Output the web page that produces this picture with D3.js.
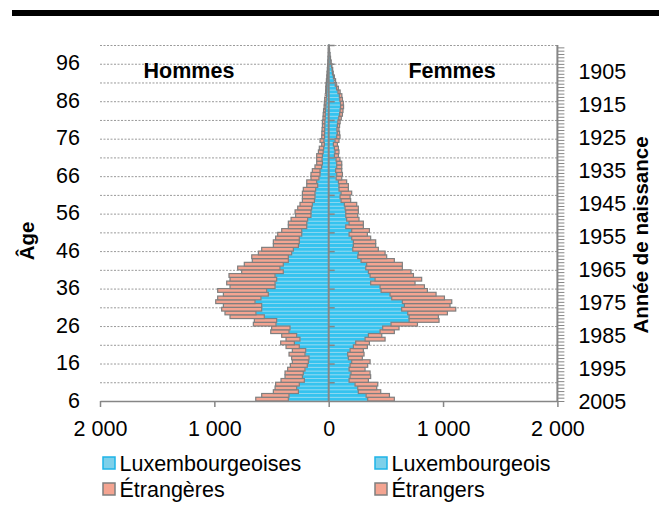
<!DOCTYPE html>
<html><head><meta charset="utf-8">
<script src="https://cdn.jsdelivr.net/npm/d3@7/dist/d3.min.js"></script>
<style>
body{margin:0;background:#fff}
text{font-family:"Liberation Sans",Arial,sans-serif;fill:#000}
</style>
</head><body>
<svg id="c" width="659" height="513"></svg>
<script>
// ---- data (ages 6..100) ----
const ages = [6,7,8,9,10,11,12,13,14,15,16,17,18,19,20,21,22,23,24,25,26,27,28,29,30,31,32,33,34,35,36,37,38,39,40,41,42,43,44,45,46,47,48,49,50,51,52,53,54,55,56,57,58,59,60,61,62,63,64,65,66,67,68,69,70,71,72,73,74,75,76,77,78,79,80,81,82,83,84,85,86,87,88,89,90,91,92,93,94,95,96,97,98,99,100];

const luxHommes = [353,347,265,280,257,213,230,222,207,187,178,172,207,201,257,300,251,280,347,338,461,455,563,636,586,586,644,592,528,542,469,469,455,469,397,426,397,353,353,324,309,265,257,257,236,236,192,192,184,155,155,149,143,125,120,120,114,96,105,85,76,76,62,55,58,55,48,44,38,42,36,36,35,34,34,31,30,28,25,24,22,19,17,16,15,13,11,10,8,7,5,4,3,2,1];
const etrHommes = [285,239,219,189,207,204,152,160,152,148,140,152,140,117,116,120,122,131,160,161,198,195,300,271,350,335,344,379,393,429,394,423,408,403,364,370,341,315,320,291,277,219,227,207,210,175,161,161,145,134,139,122,108,105,110,110,108,96,87,70,79,67,58,50,47,50,42,38,23,34,25,24,23,21,21,19,18,17,15,14,13,11,10,10,9,7,6,5,4,3,3,2,1,1,1];
const luxFemmes = [341,327,259,254,230,178,187,195,178,187,201,172,166,187,216,236,318,347,449,472,545,703,703,691,638,662,644,551,536,458,449,367,405,362,347,324,332,283,254,259,210,216,216,201,178,201,149,178,157,149,149,143,137,108,99,108,90,90,85,65,70,61,70,70,64,50,55,50,41,55,70,75,72,76,80,88,96,100,104,103,97,93,81,69,57,49,41,33,29,23,18,13,10,7,4];
const etrFemmes = [233,204,196,166,199,169,180,167,140,154,161,122,143,116,122,120,175,117,125,143,231,262,256,347,473,399,432,461,403,405,388,388,408,379,373,320,312,291,253,234,224,195,195,166,160,155,154,125,108,105,110,116,108,84,88,93,82,82,72,49,50,53,44,44,35,35,35,35,35,35,29,20,18,19,20,22,24,25,26,25,23,22,19,16,13,11,9,7,6,5,4,3,2,1,1];

const xTicks = [-2000,-1000,0,1000,2000];
const ageTicks = [6,16,26,36,46,56,66,76,86,96];
const yearTicks = [1905,1915,1925,1935,1945,1955,1965,1975,1985,1995,2005];
const sideTitles = ["Hommes","Femmes"];
const legendItems = [
  {label:"Luxembourgeoises", kind:"lux"},
  {label:"Luxembourgeois", kind:"lux"},
  {label:"Étrangères", kind:"etr"},
  {label:"Étrangers", kind:"etr"}
];

// ---- styles ----
const C = {
  luxFill:"#35C3EF", luxStroke:"#93D9F1",
  luxLegFill:"#7DD0EA", luxLegStroke:"#1EB4E8",
  etrFill:"#F4A491", etrStroke:"#7F7F7F",
  axis:"#868686", grid:"#9a9a9a"
};
const FS = 21.5;
const FF = "'Liberation Sans',Arial,sans-serif";

const svg = d3.select("#c");
// top black rule
svg.append("rect").attr("x",12).attr("y",10).attr("width",647).attr("height",6).attr("fill","#000");

const x = d3.scaleLinear().domain([-2000,2000]).range([100,557.4]);
const y = d3.scaleBand().domain(ages).range([401,45]).paddingInner(0).paddingOuter(0);
const bw = y.bandwidth();
const yr = d3.scaleLinear().domain([2005,1905]).range([401,70.5]);

// gridlines every 5 ages (band boundaries)
const gridAges = ages.filter(a => (a-5)%5===0);
svg.append("g").selectAll("line").data(gridAges).join("line")
  .attr("x1",x(-2000)).attr("x2",x(2000))
  .attr("y1",d=>y(d)+0.5).attr("y2",d=>y(d)+0.5)
  .attr("stroke",C.grid).attr("stroke-width",1).attr("stroke-dasharray","2,1.5");

// bars
const rows = ages.map((a,i)=>({age:a, lh:luxHommes[i], eh:etrHommes[i], lf:luxFemmes[i], ef:etrFemmes[i]}));
const gb = svg.append("g");
gb.selectAll(".lh").data(rows).join("rect").attr("class","lh")
  .attr("x",d=>x(-d.lh)).attr("width",d=>x(0)-x(-d.lh))
  .attr("y",d=>y(d.age)).attr("height",bw)
  .attr("fill",C.luxFill).attr("stroke",C.luxStroke).attr("stroke-width",0.8);
gb.selectAll(".lf").data(rows).join("rect").attr("class","lf")
  .attr("x",x(0)).attr("width",d=>x(d.lf)-x(0))
  .attr("y",d=>y(d.age)).attr("height",bw)
  .attr("fill",C.luxFill).attr("stroke",C.luxStroke).attr("stroke-width",0.8);
gb.selectAll(".eh").data(rows).join("rect").attr("class","eh")
  .attr("x",d=>x(-(d.lh+d.eh))).attr("width",d=>x(-d.lh)-x(-(d.lh+d.eh)))
  .attr("y",d=>y(d.age)).attr("height",bw)
  .attr("fill",C.etrFill).attr("stroke",C.etrStroke).attr("stroke-width",1.2);
gb.selectAll(".ef").data(rows).join("rect").attr("class","ef")
  .attr("x",d=>x(d.lf)).attr("width",d=>x(d.lf+d.ef)-x(d.lf))
  .attr("y",d=>y(d.age)).attr("height",bw)
  .attr("fill",C.etrFill).attr("stroke",C.etrStroke).attr("stroke-width",1.2);

// central (category) axis at 0 with ticks every 5 ages
const gc = svg.append("g");
gc.append("line").attr("x1",x(0)).attr("x2",x(0)).attr("y1",45).attr("y2",401)
  .attr("stroke",C.axis).attr("stroke-width",2);
gc.selectAll(".ct").data(gridAges).join("line").attr("class","ct")
  .attr("x1",x(0)).attr("x2",x(0)+6).attr("y1",d=>y(d)+0.5).attr("y2",d=>y(d)+0.5)
  .attr("stroke",C.axis).attr("stroke-width",1.5);

// bottom axis
const fmt = d3.formatLocale({decimal:",",thousands:" ",grouping:[3],currency:["",""]}).format(",");
const gx = svg.append("g").attr("transform","translate(0,401)")
  .call(d3.axisBottom(x).tickValues(xTicks).tickSize(6).tickSizeOuter(0).tickPadding(14).tickFormat(d=>fmt(Math.abs(d))));
gx.select(".domain").attr("stroke",C.axis).attr("stroke-width",1.5);
gx.selectAll(".tick line").attr("stroke",C.axis).attr("stroke-width",1.5);
gx.selectAll("text").attr("font-size",FS).attr("fill","#000").style("font-family",FF);

// left age labels
const gy = svg.append("g").attr("transform","translate(100,0)")
  .call(d3.axisLeft(y).tickValues(ageTicks).tickSize(0).tickPadding(20));
gy.select(".domain").remove();
gy.selectAll("text").attr("font-size",FS).attr("fill","#000").attr("dy","0.4em").style("font-family",FF);

// right year axis
const minorYears = d3.range(1898,2006);
const gr = svg.append("g").attr("transform","translate(557.4,0)")
  .call(d3.axisRight(yr).tickValues(minorYears).tickSize(7).tickSizeOuter(0).tickFormat(""));
gr.select(".domain").attr("stroke",C.axis).attr("stroke-width",2).attr("d","M0,45V401");
gr.selectAll(".tick line").attr("stroke",C.axis).attr("stroke-width",1);
const gr2 = svg.append("g").attr("transform","translate(557.4,0)")
  .call(d3.axisRight(yr).tickValues(yearTicks).tickSize(0).tickPadding(21).tickFormat(d3.format("d")));
gr2.select(".domain").remove();
gr2.selectAll("text").attr("font-size",FS).attr("fill","#000").attr("dy","0.36em").style("font-family",FF);

// side titles
svg.append("g").selectAll("text").data(sideTitles).join("text")
  .attr("x",(d,i)=> i===0 ? 189 : 452).attr("y",78)
  .attr("text-anchor","middle").attr("font-weight","bold").attr("font-size",FS).text(d=>d);

// axis titles
svg.append("text").attr("transform","translate(34,241) rotate(-90)")
  .attr("text-anchor","middle").attr("font-weight","bold").attr("font-size",20.5).text("Âge");
svg.append("text").attr("transform","translate(648,235) rotate(-90)")
  .attr("text-anchor","middle").attr("font-weight","bold").attr("font-size",20.5).text("Année de naissance");

// legend
const lg = svg.append("g");
const li = lg.selectAll("g").data(legendItems).join("g")
  .attr("transform",(d,i)=>`translate(${i%2===0?103:375},${i<2?463:489})`);
li.append("rect").attr("x",0).attr("y",-6).attr("width",12).attr("height",12)
  .attr("fill",d=>d.kind==="lux"?C.luxLegFill:C.etrFill)
  .attr("stroke",d=>d.kind==="lux"?C.luxLegStroke:C.etrStroke).attr("stroke-width",1.5);
li.append("text").attr("x",16.5).attr("y",0).attr("dy","0.36em").attr("font-size",FS).text(d=>d.label);
</script>
</body></html>
